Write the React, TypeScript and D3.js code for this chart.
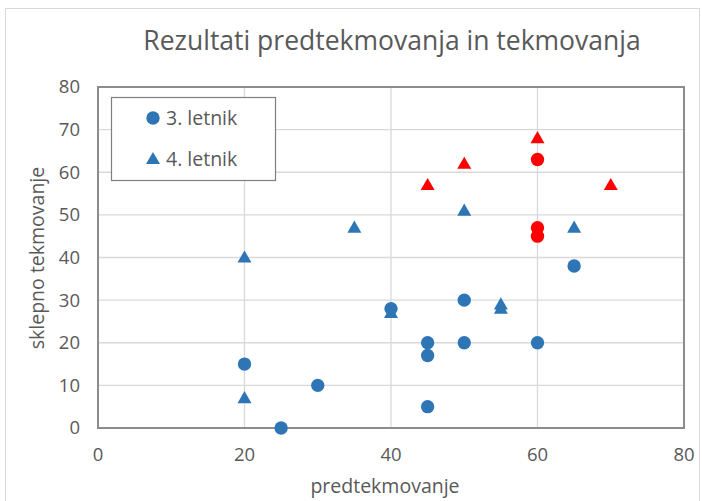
import React, { useEffect, useRef } from "react";
import * as d3 from "d3";

// predtekmovanje / sklepno tekmovanje
const letnik3X = [20, 25, 30, 40, 45, 45, 45, 50, 50, 60, 65];
const letnik3Y = [15, 0, 10, 28, 20, 17, 5, 30, 20, 20, 38];
const letnik4X = [20, 20, 35, 40, 50, 55, 55, 65];
const letnik4Y = [40, 7, 47, 27, 51, 29, 28, 47];
// highlighted (red) points
const red3X = [60, 60, 60];
const red3Y = [63, 47, 45];
const red4X = [45, 50, 60, 70];
const red4Y = [57, 62, 68, 57];

const xTicks = [0, 20, 40, 60, 80];
const yTicks = [0, 10, 20, 30, 40, 50, 60, 70, 80];
const seriesNames = ["3. letnik", "4. letnik"];

const BLUE = "#2e75b6";
const RED = "#ff0000";
const FONT = "'Open Sans', 'Noto Sans', sans-serif";

export default function App() {
  const ref = useRef<SVGSVGElement>(null);

  useEffect(() => {
    const svg = d3.select(ref.current);
    svg.selectAll("*").remove();

    const W = 702, H = 501;
    const left = 98, right = 684, top = 87, bottom = 428;

    const x = d3.scaleLinear().domain([0, 80]).range([left, right]);
    const y = d3.scaleLinear().domain([0, 80]).range([bottom, top]);

    svg.append("rect").attr("width", W).attr("height", H).attr("fill", "#fff");
    svg.append("rect")
      .attr("x", 5.5).attr("y", 8.5).attr("width", W - 8).attr("height", H - 8)
      .attr("fill", "none").attr("stroke", "#d9d9d9").attr("stroke-width", 1);

    // gridlines
    const grid = svg.append("g").attr("stroke", "#d9d9d9").attr("stroke-width", 1.3);
    grid.selectAll("line.v").data(xTicks.slice(1, -1)).enter().append("line")
      .attr("x1", d => x(d)).attr("x2", d => x(d)).attr("y1", top).attr("y2", bottom);
    grid.selectAll("line.h").data(yTicks.slice(1, -1)).enter().append("line")
      .attr("y1", d => y(d)).attr("y2", d => y(d)).attr("x1", left).attr("x2", right);

    // plot frame
    svg.append("rect")
      .attr("x", left).attr("y", top).attr("width", right - left).attr("height", bottom - top)
      .attr("fill", "none").attr("stroke", "#8c8c8c").attr("stroke-width", 2);

    // tick labels
    svg.append("g").selectAll("text").data(yTicks).enter().append("text")
      .attr("x", left - 18).attr("y", d => y(d)).attr("dy", "0.35em")
      .attr("text-anchor", "end").attr("font-family", FONT).attr("font-size", 18.5)
      .attr("fill", "#595959").text(d => d);
    svg.append("g").selectAll("text").data(xTicks).enter().append("text")
      .attr("x", d => x(d)).attr("y", 455).attr("dy", "0.35em")
      .attr("text-anchor", "middle").attr("font-family", FONT).attr("font-size", 18.5)
      .attr("fill", "#595959").text(d => d);

    // titles
    svg.append("text").attr("x", 392).attr("y", 41).attr("dy", "0.35em")
      .attr("text-anchor", "middle").attr("font-family", FONT).attr("font-size", 26.5)
      .attr("fill", "#595959").text("Rezultati predtekmovanja in tekmovanja");
    svg.append("text").attr("x", 385).attr("y", 486).attr("dy", "0.35em")
      .attr("text-anchor", "middle").attr("font-family", FONT).attr("font-size", 19.5)
      .attr("fill", "#595959").text("predtekmovanje");
    svg.append("text")
      .attr("transform", `translate(37,258) rotate(-90)`)
      .attr("dy", "0.35em").attr("text-anchor", "middle").attr("font-family", FONT)
      .attr("font-size", 19.5).attr("fill", "#595959").text("sklepno tekmovanje");

    const circle = d3.symbol().type(d3.symbolCircle).size(140);
    const tri = d3.symbol().type(d3.symbolTriangle).size(85);

    const drawSeries = (xs: number[], ys: number[], sym: any, color: string, dy: number) => {
      svg.append("g").selectAll("path").data(xs).enter().append("path")
        .attr("d", sym)
        .attr("transform", (d, i) => `translate(${x(d)},${y(ys[i]) + dy})`)
        .attr("fill", color);
    };
    drawSeries(letnik3X, letnik3Y, circle, BLUE, 0);
    drawSeries(letnik4X, letnik4Y, tri, BLUE, 1);
    drawSeries(red3X, red3Y, circle, RED, 0);
    drawSeries(red4X, red4Y, tri, RED, 1);

    // legend
    const lg = svg.append("g");
    lg.append("rect").attr("x", 111.5).attr("y", 97.5).attr("width", 164).attr("height", 83)
      .attr("fill", "#fff").attr("stroke", "#7f7f7f").attr("stroke-width", 1.2);
    [circle, tri].forEach((s, i) => {
      const cy = 118 + i * 41;
      lg.append("path").attr("d", s).attr("fill", BLUE)
        .attr("transform", `translate(153,${cy + (i ? 1 : 0)})`);
      lg.append("text").attr("x", 166).attr("y", cy).attr("dy", "0.35em")
        .attr("font-family", FONT).attr("font-size", 19.5).attr("fill", "#595959")
        .text(seriesNames[i]);
    });
  }, []);

  return (
    <svg ref={ref} width={702} height={501}
      style={{ display: "block", position: "absolute", left: 0, top: 0 }} />
  );
}
